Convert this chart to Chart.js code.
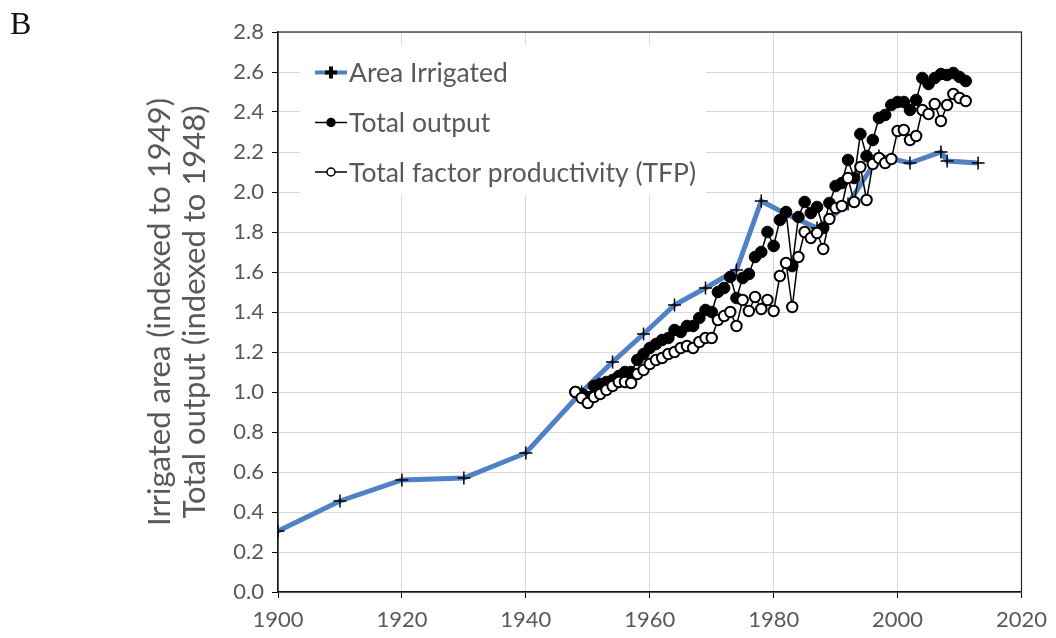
<!DOCTYPE html>
<html>
<head>
<meta charset="utf-8">
<title>Irrigated area, total output and TFP</title>
<script src="https://cdn.jsdelivr.net/npm/chart.js@4.4.1/dist/chart.umd.min.js"></script>
<style>
    body { margin: 0; background: #fff; }
    #wrap { position: relative; width: 1056px; height: 638px; }
    #panel-tag { position: absolute; left: 10px; top: 7px; font: 32px/32px "Liberation Serif", serif; color: #111; }
</style>
</head>
<body>
<div id="wrap">
    <canvas id="irrigChart" width="1056" height="638"></canvas>
    <div id="panel-tag">B</div>
</div>
<script>
// ------------------------------------------------------------------
// Series data
// ------------------------------------------------------------------
const irrigYears = [1900, 1910, 1920, 1930, 1940, 1949, 1954, 1959, 1964, 1969,
                    1974, 1978, 1982, 1987, 1992, 1997, 2002, 2007, 2008, 2013];
const irrigIndex = [0.305, 0.455, 0.56, 0.57, 0.695, 1.00, 1.15, 1.29, 1.435, 1.52,
                    1.61, 1.955, 1.89, 1.82, 1.94, 2.18, 2.145, 2.20, 2.155, 2.145];

const farmYears = [1948, 1949, 1950, 1951, 1952, 1953, 1954, 1955, 1956, 1957,
                   1958, 1959, 1960, 1961, 1962, 1963, 1964, 1965, 1966, 1967,
                   1968, 1969, 1970, 1971, 1972, 1973, 1974, 1975, 1976, 1977,
                   1978, 1979, 1980, 1981, 1982, 1983, 1984, 1985, 1986, 1987,
                   1988, 1989, 1990, 1991, 1992, 1993, 1994, 1995, 1996, 1997,
                   1998, 1999, 2000, 2001, 2002, 2003, 2004, 2005, 2006, 2007,
                   2008, 2009, 2010, 2011];

const outputIndex = [1.00, 0.99, 0.975, 1.03, 1.04, 1.05, 1.06, 1.08, 1.10, 1.10,
                     1.16, 1.19, 1.22, 1.24, 1.26, 1.27, 1.31, 1.30, 1.33, 1.33,
                     1.37, 1.41, 1.40, 1.50, 1.52, 1.575, 1.47, 1.57, 1.59, 1.675,
                     1.70, 1.80, 1.73, 1.86, 1.90, 1.63, 1.875, 1.95, 1.895, 1.925,
                     1.82, 1.945, 2.03, 2.045, 2.16, 2.07, 2.29, 2.18, 2.26, 2.37,
                     2.385, 2.435, 2.45, 2.45, 2.41, 2.46, 2.57, 2.54, 2.57, 2.59,
                     2.585, 2.595, 2.575, 2.555];

const tfpIndex = [1.00, 0.97, 0.945, 0.975, 0.99, 1.01, 1.03, 1.05, 1.05, 1.045,
                  1.09, 1.11, 1.14, 1.16, 1.17, 1.19, 1.20, 1.22, 1.23, 1.22,
                  1.25, 1.27, 1.27, 1.36, 1.38, 1.40, 1.33, 1.46, 1.405, 1.475,
                  1.415, 1.46, 1.405, 1.58, 1.645, 1.425, 1.675, 1.80, 1.77, 1.795,
                  1.715, 1.865, 1.92, 1.93, 2.07, 1.95, 2.125, 1.96, 2.14, 2.17,
                  2.145, 2.165, 2.305, 2.31, 2.26, 2.28, 2.41, 2.39, 2.44, 2.355,
                  2.435, 2.49, 2.47, 2.455];

const seriesNames = ['Area Irrigated', 'Total output', 'Total factor productivity (TFP)'];
const axisTitle = ['Irrigated area (indexed to 1949)', 'Total output (indexed to 1948)'];

const xTicks = { min: 1900, max: 2020, step: 20 };
const yTicks = { min: 0, max: 2.8, step: 0.2 };

// ------------------------------------------------------------------
// Styles
// ------------------------------------------------------------------
const BLUE = '#4f81c4';
const GREY_TEXT = '#595959';
const GRID = '#d9d9d9';
const FONT = 'Lato';

const toPoints = (xs, ys) => xs.map((x, i) => ({ x: x, y: ys[i] }));

// Legend drawn inside the plot, Excel style (line + marker sample)
const insetLegend = {
    id: 'insetLegend',
    beforeDatasetsDraw(chart) {
        const { ctx, chartArea: a } = chart;
        ctx.save();
        ctx.fillStyle = '#fff';
        ctx.fillRect(a.left + 22, a.top + 13, 406, 150);
        // plot frame
        ctx.strokeStyle = '#262626';
        ctx.lineWidth = 1.2;
        ctx.strokeRect(a.left, a.top, a.right - a.left, a.bottom - a.top);
        ctx.restore();
    },
    afterDatasetsDraw(chart) {
        const { ctx, chartArea: a } = chart;
        const rows = [40.5, 90.5, 140];
        ctx.save();
        chart.data.datasets.forEach((ds, i) => {
            const y = a.top + rows[i];
            const x0 = a.left + 37, x1 = a.left + 69, xm = a.left + 53;
            ctx.strokeStyle = ds.borderColor;
            ctx.lineWidth = i === 0 ? 4 : 1.5;
            ctx.beginPath();
            ctx.moveTo(x0, y);
            ctx.lineTo(x1, y);
            ctx.stroke();

            ctx.fillStyle = ds.pointBackgroundColor;
            ctx.strokeStyle = ds.pointBorderColor;
            Chart.helpers.drawPoint(ctx, {
                pointStyle: ds.pointStyle,
                radius: i === 0 ? 6 : 4,
                rotation: 0,
                borderWidth: 1.5
            }, xm, y);

            ctx.fillStyle = GREY_TEXT;
            ctx.font = '26.5px ' + FONT;
            ctx.textBaseline = 'middle';
            ctx.textAlign = 'left';
            ctx.fillText(ds.label, a.left + 71, y + 1);
        });
        ctx.restore();
    }
};

const ctx = document.getElementById('irrigChart').getContext('2d');

new Chart(ctx, {
    type: 'line',
    data: {
        datasets: [{
            label: seriesNames[0],
            data: toPoints(irrigYears, irrigIndex),
            borderColor: BLUE,
            borderWidth: 5,
            pointStyle: 'cross',
            pointRadius: 6.5,
            pointBorderWidth: 1.5,
            pointBorderColor: '#000',
            pointBackgroundColor: '#000',
            tension: 0,
            order: 3
        }, {
            label: seriesNames[1],
            data: toPoints(farmYears, outputIndex),
            borderColor: '#000',
            borderWidth: 1.5,
            pointStyle: 'circle',
            pointRadius: 5.8,
            pointBorderWidth: 1,
            pointBorderColor: '#000',
            pointBackgroundColor: '#000',
            tension: 0,
            order: 2
        }, {
            label: seriesNames[2],
            data: toPoints(farmYears, tfpIndex),
            borderColor: '#000',
            borderWidth: 1.5,
            pointStyle: 'circle',
            pointRadius: 5.2,
            pointBorderWidth: 2,
            pointBorderColor: '#000',
            pointBackgroundColor: '#fff',
            tension: 0,
            order: 1
        }]
    },
    options: {
        responsive: false,
        animation: false,
        events: [],
        layout: { padding: { left: 0, top: 32, right: 32, bottom: 0 } },
        plugins: {
            legend: { display: false },
            tooltip: { enabled: false }
        },
        scales: {
            x: {
                type: 'linear',
                min: xTicks.min,
                max: xTicks.max,
                afterFit(scale) { scale.height = 46; },
                ticks: {
                    stepSize: xTicks.step,
                    color: GREY_TEXT,
                    padding: 9,
                    font: { family: FONT, size: 22 },
                    callback: v => String(v)
                },
                grid: { color: GRID, lineWidth: 1, tickLength: 6, tickColor: '#000' },
                border: { color: '#000', width: 1.2 }
            },
            y: {
                min: yTicks.min,
                max: yTicks.max,
                afterFit(scale) { scale.width = 278; },
                ticks: {
                    stepSize: yTicks.step,
                    color: GREY_TEXT,
                    padding: 8,
                    font: { family: FONT, size: 22 },
                    callback: v => v.toFixed(1)
                },
                grid: { color: GRID, lineWidth: 1, tickLength: 6, tickColor: '#000' },
                border: { color: '#000', width: 1.2 },
                title: {
                    display: true,
                    text: axisTitle,
                    color: GREY_TEXT,
                    font: { family: FONT, size: 31, lineHeight: 1.13 },
                    padding: { top: 142, bottom: 0 }
                }
            }
        }
    },
    plugins: [insetLegend]
});
</script>
</body>
</html>
